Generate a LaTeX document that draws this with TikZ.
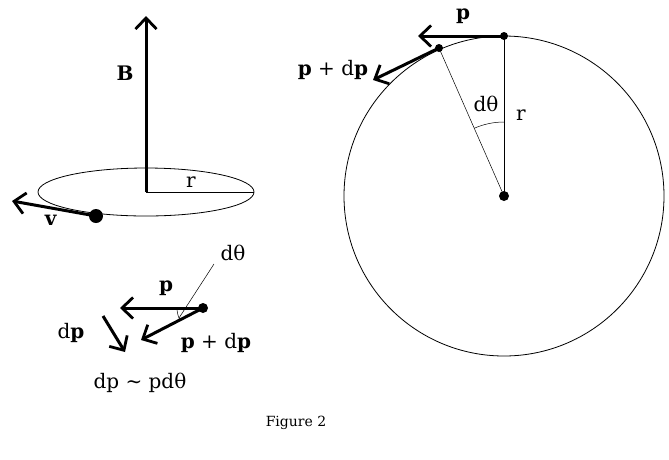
\documentclass[tikz,border=0pt]{standalone}
\usepackage{fontspec}
\setmainfont{DejaVu Serif}
\usetikzlibrary{arrows.meta}
\begin{document}
\begin{tikzpicture}[x=1pt,y=-1pt,
  vec/.style={line width=3pt,-{Straight Barb[length=11pt,width=21pt,line width=2.8pt]}},
  thin line/.style={line width=0.8pt},
  lbl/.style={inner sep=0pt,font=\fontsize{20}{22}\selectfont},
  dot/.style={circle,fill=black,inner sep=0pt,minimum size=#1}]
\useasboundingbox (0,0) rectangle (669,459);
% left: B field and orbit
\coordinate (O) at (146,192);
\coordinate (Btop) at (146,16);
\coordinate (R) at (254,192);
\draw[thin line] (O) ellipse [x radius=108, y radius=24];
\draw[vec] (O) -- (Btop);
\draw[thin line] (O) -- (R);
\node[lbl] (Blab) at (125,73) {\textbf{B}};
\node[lbl] (rlab) at (191,182) {r};
\node[dot=14pt] (q) at (96,216) {};
\coordinate (vend) at (12,201);
\draw[vec] (q.center) -- (vend);
\node[lbl] (vlab) at (51,220) {\textbf{v}};
% bottom left: vector diagram
\node[dot=10pt] (b) at (203,308) {};
\coordinate (bp) at (120,308);
\coordinate (bpd) at (141,340);
\draw[vec] (b.center) -- (bp);
\draw[vec] (b.center) -- (bpd);
\coordinate (dta) at (214,264);
\coordinate (dtb) at (179,318);
\draw[line width=0.5pt] (dta) -- (dtb);
\draw[line width=0.5pt] (177,308) arc[start angle=180, end angle=153, radius=26];
\node[lbl] (bplab) at (166,288) {\textbf{p}};
\node[lbl] (bpdlab) at (216,343) {\textbf{p} + d\textbf{p}};
\node[lbl] (bdtlab) at (233,253) {dθ};
\coordinate (dps) at (103,316);
\coordinate (dpe) at (125,352);
\draw[vec] (dps) -- (dpe);
\node[lbl] (dplab) at (71,333) {d\textbf{p}};
\node[lbl] (rel) at (140,383) {dp \textasciitilde{} pdθ};
% right: circle
\coordinate (C) at (504,196);
\draw[thin line] (C) circle[radius=160];
\node[dot=10pt] (c) at (C) {};
\node[dot=8pt] (t) at (504,36) {};
\node[dot=8pt] (s) at (439,48) {};
\draw[line width=1pt] (c.center) -- (t.center);
\draw[line width=0.5pt] (c.center) -- (s.center);
\draw[line width=0.5pt] (504,122) arc[start angle=-90, end angle=-113.7, radius=74];
\coordinate (tp) at (418,36);
\coordinate (spd) at (373,80);
\draw[vec] (t.center) -- (tp);
\draw[vec] (s.center) -- (spd);
\node[lbl] (tplab) at (463,16) {\textbf{p}};
\node[lbl] (spdlab) at (333,70) {\textbf{p} + d\textbf{p}};
\node[lbl] (rdt) at (486,104) {dθ};
\node[lbl] (rr) at (521,115) {r};
\node[inner sep=0pt,font=\fontsize{14}{16}\selectfont] (cap) at (296,423) {Figure 2};
\end{tikzpicture}
\end{document}
